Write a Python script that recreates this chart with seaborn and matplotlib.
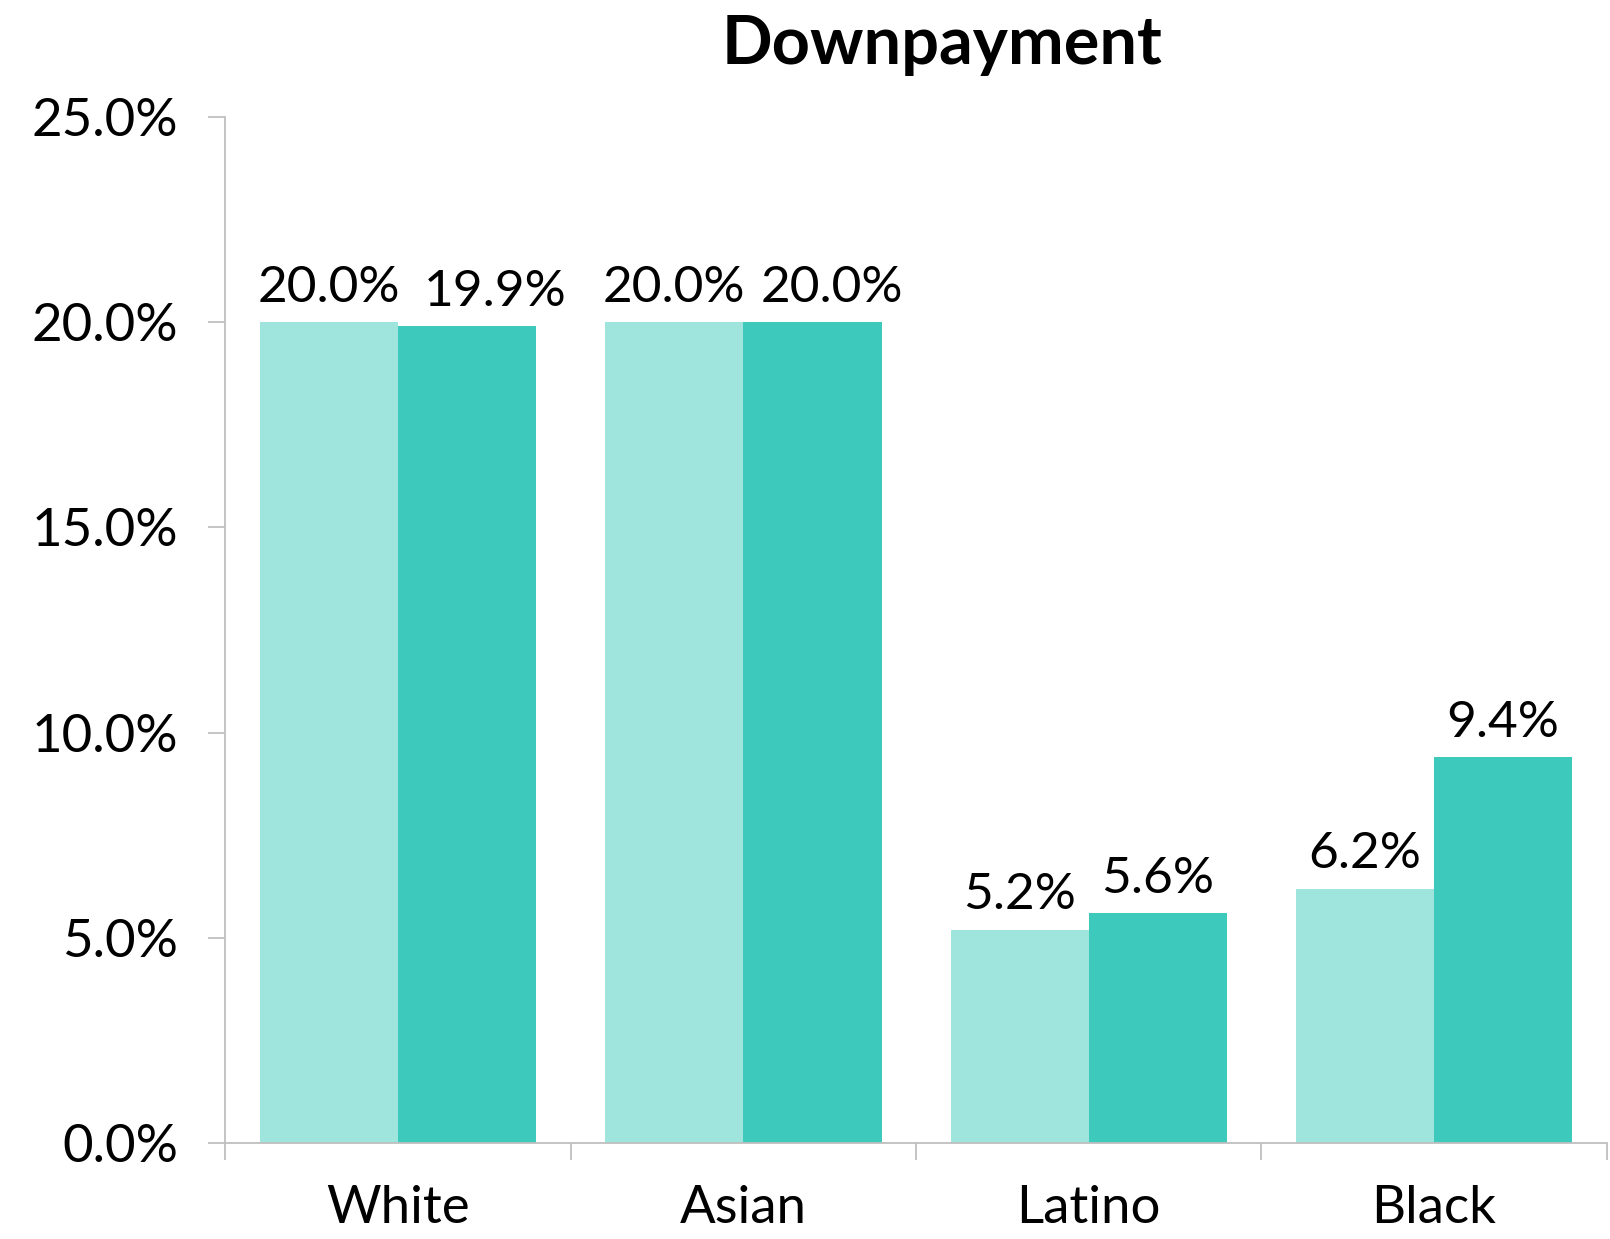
import matplotlib
matplotlib.use("Agg")
import matplotlib.pyplot as plt
from matplotlib.ticker import FixedLocator, FuncFormatter
import seaborn as sns
import pandas as pd

# Downpayment share by race/ethnicity, two series
categories = ["White", "Asian", "Latino", "Black"]
series_names = ["Series 1", "Series 2"]
series_1 = [20.0, 20.0, 5.2, 6.2]
series_2 = [19.9, 20.0, 5.6, 9.4]
y_ticks = [0, 5, 10, 15, 20, 25]

light_teal = "#A0E4DE"
dark_teal = "#3DC9BB"
axis_grey = "#BFBFBF"

df = pd.DataFrame({
    "group": categories * 2,
    "series": [series_names[0]] * len(categories) + [series_names[1]] * len(categories),
    "value": series_1 + series_2,
})

sns.set_theme(style="white")
plt.rcParams["font.family"] = ["Lato", "DejaVu Sans"]

fig = plt.figure(figsize=(16.1, 12.39), dpi=100)
ax = fig.add_axes([0.140, 0.0775, 0.858, 0.828])

sns.barplot(data=df, x="group", y="value", hue="series", order=categories,
            hue_order=series_names, palette=[light_teal, dark_teal],
            width=0.8, gap=0, saturation=1, linewidth=0, legend=False, ax=ax)

ax.set_ylim(0, 25)
ax.set_xlim(-0.5, len(categories) - 0.5)
ax.yaxis.set_major_locator(FixedLocator(y_ticks))
ax.yaxis.set_major_formatter(FuncFormatter(lambda v, _: f"{v:.1f}%"))
ax.set_xlabel("")
ax.set_ylabel("")

for side in ("top", "right"):
    ax.spines[side].set_visible(False)
for side in ("left", "bottom"):
    ax.spines[side].set_color(axis_grey)
    ax.spines[side].set_linewidth(1.3)

ax.tick_params(axis="y", which="major", length=12, width=1.3, color=axis_grey,
               direction="out", left=True, pad=22, labelsize=38, labelcolor="black")
ax.tick_params(axis="x", which="major", length=0, pad=30, labelsize=38, labelcolor="black")
ax.xaxis.set_minor_locator(FixedLocator([i - 0.5 for i in range(len(categories) + 1)]))
ax.tick_params(axis="x", which="minor", length=12, width=1.3, color=axis_grey,
               direction="out", bottom=True)

# value labels above each bar; a few nudged right so neighbours don't collide
label_nudge = {(1, 0): 20, (1, 1): 14}
for s, container in enumerate(ax.containers):
    texts = ax.bar_label(container, labels=[f"{b.get_height():.1f}%" for b in container],
                         padding=8, fontsize=37, color="black")
    for c, t in enumerate(texts):
        dx = label_nudge.get((s, c), 0)
        if dx:
            t.xyann = (dx, t.xyann[1])

fig.text(0.585, 0.948, "Downpayment", ha="center", va="baseline",
         fontsize=48, fontweight="bold", color="black")

fig.savefig("out.png", dpi=100, facecolor="white")
